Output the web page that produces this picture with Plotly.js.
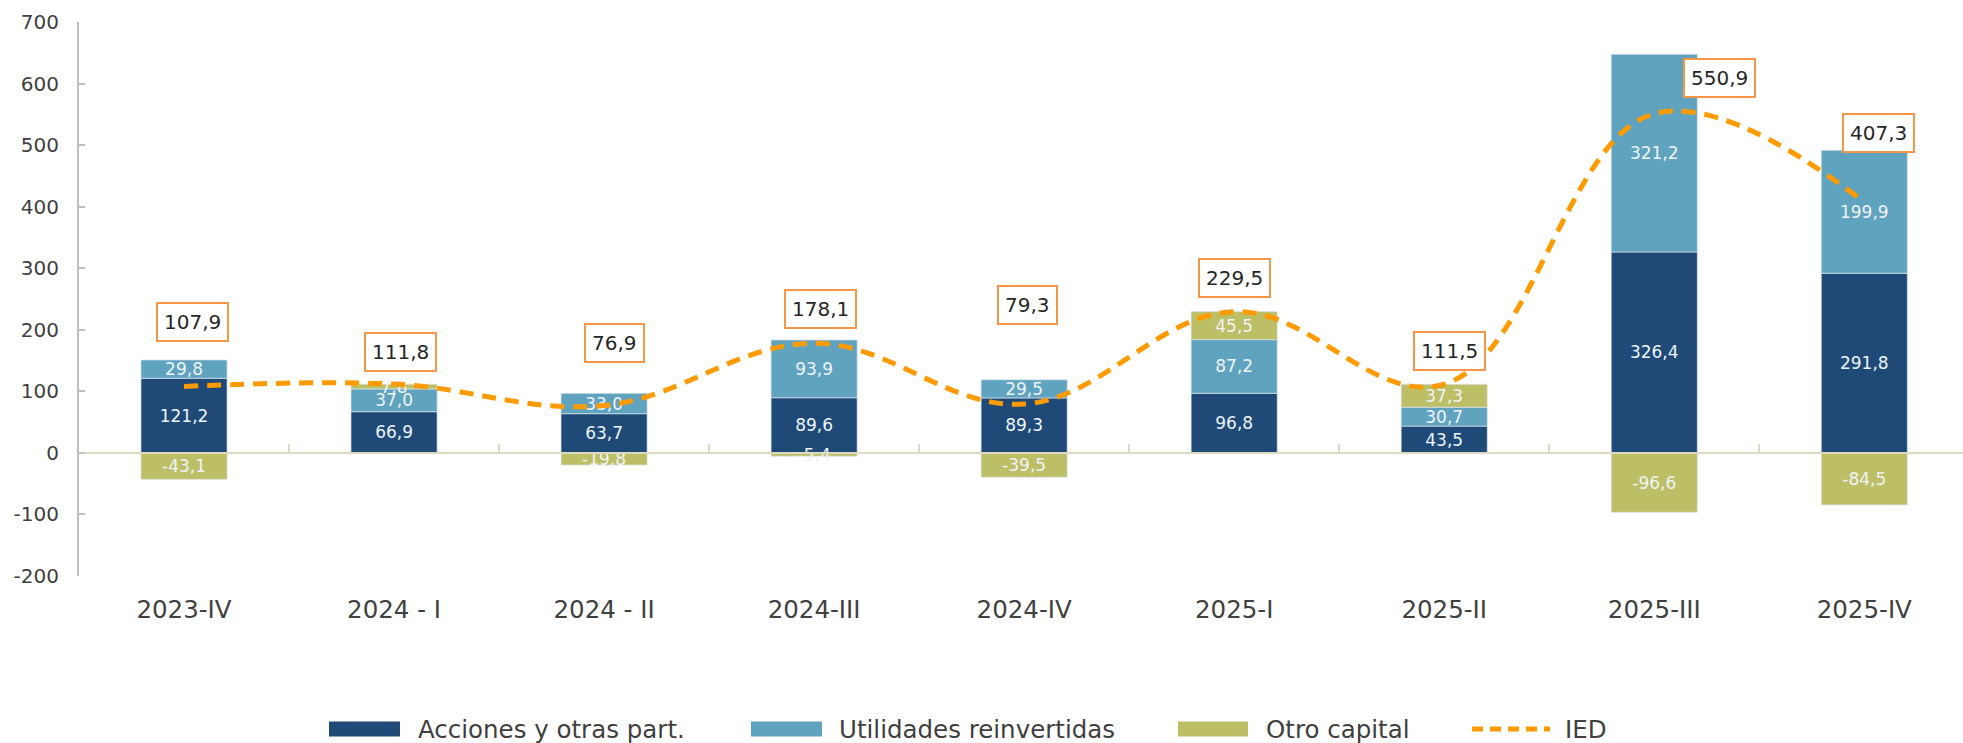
<!DOCTYPE html>
<html><head><meta charset="utf-8">
<script src="https://cdn.plot.ly/plotly-3.0.1.min.js"></script>
<style>html,body{margin:0;padding:0;background:#fff;}#chart{width:1963px;height:743px;}</style>
</head><body><div id="chart"></div>
<script>
// ---- data ----
const categories = ['2023-IV','2024 - I','2024 - II','2024-III','2024-IV','2025-I','2025-II','2025-III','2025-IV'];
const acciones = [121.2, 66.9, 63.7, 89.6, 89.3, 96.8, 43.5, 326.4, 291.8];
const utilidades = [29.8, 37.0, 33.0, 93.9, 29.5, 87.2, 30.7, 321.2, 199.9];
const otroCapital = [-43.1, 7.8, -19.8, -5.4, -39.5, 45.5, 37.3, -96.6, -84.5];
const ied = [107.9, 111.8, 76.9, 178.1, 79.3, 229.5, 111.5, 550.9, 407.3];
const seriesNames = ['Acciones y otras part.', 'Utilidades reinvertidas', 'Otro capital', 'IED'];
const yTickVals = [-200, -100, 0, 100, 200, 300, 400, 500, 600, 700];

// ---- layout helpers (pixel offsets of the IED value boxes) ----
const boxShiftY = [64, 32, 63, 34, 99, 34, 33, 36, 69];
const boxShiftX = [8, 6, 10, 6, 3, 0, 5, 65, 14];

const FONT = 'DejaVu Sans';
const colors = ['#1F4A78', '#60A3BF', '#BDBF66', '#FF9A00'];
const W = 1963, H = 743, ML = 79, MR = 0, MT = 22, MB = 167;
const PW = W - ML - MR, PH = H - MT - MB;
const px = x => (x - ML) / PW;
const py = y => (H - MB - y) / PH;

const fmt = v => v.toFixed(1).replace('.', ',');

function barTrace(vals, name, color) {
  return {
    type: 'bar', x: categories, y: vals, name: name,
    marker: { color: color, line: { color: 'rgba(220,230,240,0.7)', width: 1 } },
    text: vals.map(fmt), textposition: 'inside', insidetextanchor: 'middle',
    textfont: { family: FONT, size: 17, color: '#EEF3F8' },
    constraintext: 'none', cliponaxis: false, showlegend: false, hoverinfo: 'skip'
  };
}

const traces = [
  barTrace(acciones, seriesNames[0], colors[0]),
  barTrace(utilidades, seriesNames[1], colors[1]),
  barTrace(otroCapital, seriesNames[2], colors[2]),
  {
    type: 'scatter', mode: 'lines', x: categories, y: ied, name: seriesNames[3],
    line: { color: colors[3], width: 5, dash: '14px,9px', shape: 'spline', smoothing: 1.1 },
    showlegend: false, hoverinfo: 'skip'
  }
];

const annotations = ied.map((v, i) => ({
  x: categories[i], y: v, xref: 'x', yref: 'y',
  text: fmt(v), showarrow: false,
  xshift: boxShiftX[i], yshift: boxShiftY[i],
  font: { family: FONT, size: 20, color: '#262626' },
  bgcolor: '#FFFFFF', bordercolor: '#F79646', borderwidth: 2, borderpad: 6
}));

// custom legend
const legendItems = [
  { sx0: 329, sx1: 400, tx: 416, kind: 'box' },
  { sx0: 751, sx1: 822, tx: 837, kind: 'box' },
  { sx0: 1178, sx1: 1248, tx: 1264, kind: 'box' },
  { sx0: 1472, sx1: 1550, tx: 1563, kind: 'line' }
];
const legY = 729;
const shapes = [];
legendItems.forEach((it, i) => {
  if (it.kind === 'box') {
    shapes.push({ type: 'rect', xref: 'paper', yref: 'paper',
      x0: px(it.sx0), x1: px(it.sx1), y0: py(legY - 7.5), y1: py(legY + 7.5),
      fillcolor: colors[i], line: { width: 0 } });
  } else {
    shapes.push({ type: 'line', xref: 'paper', yref: 'paper',
      x0: px(it.sx0), x1: px(it.sx1), y0: py(legY), y1: py(legY),
      line: { color: colors[i], width: 5, dash: '11px,7px' } });
  }
  annotations.push({ xref: 'paper', yref: 'paper', x: px(it.tx), y: py(legY),
    xanchor: 'left', yanchor: 'middle', showarrow: false, text: seriesNames[i],
    font: { family: FONT, size: 24.5, color: '#404040' } });
});

const layout = {
  width: W, height: H,
  margin: { l: ML, r: MR, t: MT, b: MB },
  paper_bgcolor: '#FFFFFF', plot_bgcolor: '#FFFFFF',
  barmode: 'relative', bargap: 0.59,
  separators: ',.',
  showlegend: false,
  font: { family: FONT, color: '#404040' },
  xaxis: {
    type: 'category', categoryarray: categories, range: [-0.5, 8.47],
    anchor: 'free', position: 200 / 900,
    showline: true, linecolor: '#DDD9C3', linewidth: 2,
    ticks: 'inside', tickson: 'boundaries', ticklen: 8, tickwidth: 2, tickcolor: '#DDD9C3',
    ticklabelstandoff: 135,
    tickfont: { family: FONT, size: 24.5, color: '#404040' },
    showgrid: false, zeroline: false, fixedrange: true
  },
  yaxis: {
    range: [-200, 700], tickvals: yTickVals, ticktext: yTickVals.map(String),
    showline: true, linecolor: '#BFBFBF', linewidth: 2,
    ticks: 'inside', ticklen: 6, tickwidth: 2, tickcolor: '#BFBFBF',
    ticklabelstandoff: 14,
    tickfont: { family: FONT, size: 20, color: '#404040' },
    showgrid: false, zeroline: false, fixedrange: true
  },
  shapes: shapes,
  annotations: annotations
};

Plotly.newPlot('chart', traces, layout, { displayModeBar: false, staticPlot: true });
</script>
</body></html>
